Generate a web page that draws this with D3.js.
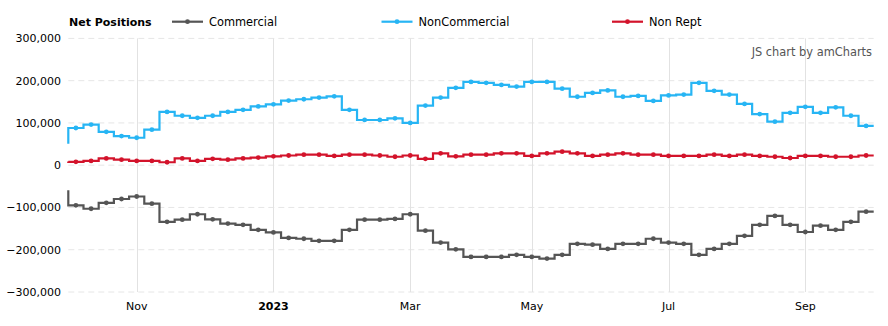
<!DOCTYPE html>
<html>
<head>
<meta charset="utf-8">
<script src="https://cdn.jsdelivr.net/npm/d3@7"></script>
<style>
  html, body { margin: 0; padding: 0; background: #fff; }
  svg { display: block; font-family: Verdana, "DejaVu Sans", sans-serif; }
</style>
</head>
<body>
<svg id="chart" width="888" height="326"></svg>
<script>
// ---------- data ----------
const firstDate = "2022-10-04";           // first weekly report shown (Tuesdays)
const seriesNames = ["Commercial", "NonCommercial", "Non Rept"];
const seriesColors = ["#555555", "#27b5f4", "#d3132b"];
// value of the report just before the visible range (edge of the plot)
const prevValues = [-59000, 51000, 9000];
const commercial = [-95000,-103000,-89000,-80000,-74000,-91000,-134000,-129000,-116000,-128000,
  -138000,-141000,-153000,-159000,-172000,-174000,-179000,-179000,-153000,-129000,
  -129000,-127000,-116000,-155000,-183000,-199000,-217000,-217000,-217000,-212000,
  -217000,-221000,-212000,-186000,-188000,-198000,-186000,-186000,-174000,-183000,
  -186000,-212000,-198000,-186000,-167000,-141000,-120000,-141000,-158000,-143000,
  -153000,-134000,-110000];
const nonCommercial = [88000,96000,79000,69000,65000,84000,126000,117000,112000,117000,
  126000,131000,139000,144000,153000,156000,160000,163000,131000,107000,
  107000,111000,100000,141000,160000,183000,197000,195000,190000,186000,
  197000,197000,181000,162000,171000,177000,162000,164000,152000,165000,
  167000,195000,176000,167000,145000,121000,103000,124000,138000,124000,
  137000,117000,93000];
const nonRept = [8000,10000,16000,13000,10000,10000,7000,16000,10000,15000,
  13000,16000,18000,21000,23000,25000,25000,22000,25000,25000,
  23000,20000,23000,15000,28000,21000,25000,25000,28000,28000,
  22000,28000,32000,28000,22000,25000,28000,25000,25000,22000,
  22000,22000,25000,22000,25000,22000,20000,17000,22000,22000,
  20000,20000,23000];
const yTicks = [300000, 200000, 100000, 0, -100000, -200000, -300000];
const xTickDates = ["2022-11-01", "2023-01-03", "2023-03-07", "2023-05-02", "2023-07-04", "2023-09-05"];
const xTickLabels = ["Nov", "2023", "Mar", "May", "Jul", "Sep"];
const legendTitle = "Net Positions";
const watermark = "JS chart by amCharts";

// ---------- layout ----------
const W = 888, H = 326;
const plot = { left: 68.3, right: 873.7, top: 38.4, bottom: 292 };
const DAY = 864e5, HALF = 3.5 * DAY, WEEK = 7 * DAY;

const parse = d3.utcParse("%Y-%m-%d");
const t0 = parse(firstDate).getTime();
const dates = commercial.map((_, i) => new Date(t0 + i * WEEK));
const allSeries = [commercial, nonCommercial, nonRept];

const x = d3.scaleUtc()
  .domain([new Date(t0 - HALF), new Date(dates[dates.length - 1].getTime() + HALF)])
  .range([plot.left, plot.right]);
const y = d3.scaleLinear().domain([-300000, 300000]).range([plot.bottom, plot.top]);

const svg = d3.select("#chart");

// grid: horizontal dashed
svg.append("g").selectAll("line").data(yTicks).join("line")
  .attr("x1", plot.left).attr("x2", plot.right)
  .attr("y1", d => y(d)).attr("y2", d => y(d))
  .attr("stroke", "#e6e6e6").attr("stroke-width", 1)
  .attr("stroke-dasharray", "6,4");

// grid: vertical month lines
const tickDates = xTickDates.map(parse);
svg.append("g").selectAll("line").data(tickDates).join("line")
  .attr("x1", d => Math.round(x(d)) + 0.5).attr("x2", d => Math.round(x(d)) + 0.5)
  .attr("y1", plot.top).attr("y2", plot.bottom)
  .attr("stroke", "#e2e2e2").attr("stroke-width", 1);

// y axis labels
const fmt = d3.format(",");
svg.append("g").selectAll("text").data(yTicks).join("text")
  .attr("x", 61).attr("y", d => y(d))
  .attr("dy", "0.35em")
  .attr("text-anchor", "end")
  .attr("font-size", "11px").attr("fill", "#000")
  .text(d => fmt(d));

// x axis labels
svg.append("g").selectAll("text").data(tickDates).join("text")
  .attr("x", d => x(d)).attr("y", 310)
  .attr("text-anchor", "middle")
  .attr("font-size", "11px").attr("fill", "#000")
  .attr("font-weight", (d, i) => xTickLabels[i] === "2023" ? "bold" : "normal")
  .text((d, i) => xTickLabels[i]);

// step lines
const line = d3.line().x(d => x(d[0])).y(d => y(d[1])).curve(d3.curveStepAfter);
const order = [1, 2, 0]; // draw order
order.forEach(si => {
  const vals = allSeries[si];
  const pts = [[new Date(t0 - HALF), prevValues[si]]];
  vals.forEach((v, i) => pts.push([new Date(dates[i].getTime() - HALF), v]));
  pts.push([new Date(dates[dates.length - 1].getTime() + HALF), vals[vals.length - 1]]);
  const g = svg.append("g");
  g.append("path").attr("d", line(pts))
    .attr("fill", "none").attr("stroke", seriesColors[si])
    .attr("stroke-width", 2.2).attr("stroke-linejoin", "miter");
  g.selectAll("circle").data(vals).join("circle")
    .attr("cx", (d, i) => x(dates[i])).attr("cy", d => y(d))
    .attr("r", 2.4).attr("fill", seriesColors[si]);
});

// legend
const legend = svg.append("g");
legend.append("text").attr("x", 69).attr("y", 26)
  .attr("font-size", "11px").attr("font-weight", "bold").attr("fill", "#000")
  .text(legendTitle);
const legendX = [172, 381.5, 612];
seriesNames.forEach((name, i) => {
  const lx = legendX[i];
  legend.append("line").attr("x1", lx).attr("x2", lx + 31)
    .attr("y1", 21.7).attr("y2", 21.7)
    .attr("stroke", seriesColors[i]).attr("stroke-width", 2.2);
  legend.append("circle").attr("cx", lx + 15.5).attr("cy", 21.7).attr("r", 2.4)
    .attr("fill", seriesColors[i]);
  legend.append("text").attr("x", lx + 37).attr("y", 26)
    .attr("font-size", "11.4px").attr("fill", "#000").text(name);
});

// watermark
svg.append("text").attr("x", 872).attr("y", 56)
  .attr("text-anchor", "end").attr("font-size", "11.4px").attr("fill", "#555")
  .text(watermark);
</script>
</body>
</html>
